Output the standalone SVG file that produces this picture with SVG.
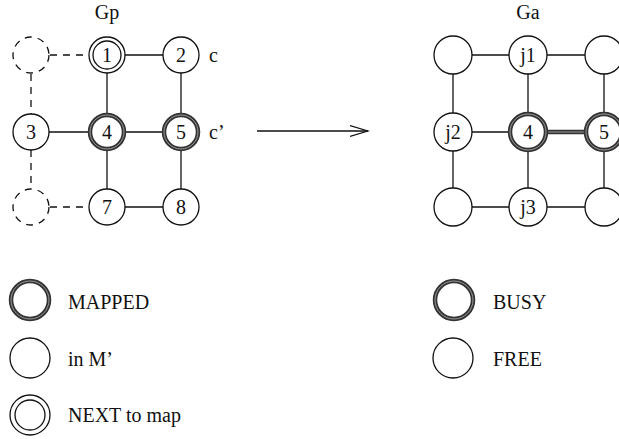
<svg xmlns="http://www.w3.org/2000/svg" width="619" height="439" viewBox="0 0 619 439">
<defs>
<style>
text{font-family:"Liberation Serif","Times New Roman",serif;fill:#111;}
.lbl{font-size:20px;text-anchor:middle;}
.big{font-size:20px;}
.n{fill:#fff;stroke:#111;stroke-width:1.3;}
.dash{fill:none;stroke:#111;stroke-width:1.3;stroke-dasharray:7,6;}
.busy{fill:#fff;stroke:#333;stroke-width:4.5;}
.busyin{fill:none;stroke:#999;stroke-width:1;}
.e{stroke:#111;stroke-width:1.3;fill:none;}
.ed{stroke:#111;stroke-width:1.3;fill:none;stroke-dasharray:7,6;}
</style>
<marker id="ah" markerWidth="20" markerHeight="14" refX="18" refY="7" orient="auto" markerUnits="userSpaceOnUse">
<path d="M0,1.5 L18,7 L0,12.5" fill="none" stroke="#111" stroke-width="1.3"/>
</marker>
</defs>
<rect width="619" height="439" fill="#fff"/>
<text class="lbl" x="107" y="19">Gp</text>
<text class="lbl" x="528" y="19">Ga</text>
<g id="connectors">
<line class="ed" x1="50" y1="55" x2="89" y2="55"/>
<line class="ed" x1="31" y1="74" x2="31" y2="114"/>
<line class="ed" x1="31" y1="150" x2="31" y2="189"/>
<line class="ed" x1="50" y1="207" x2="89" y2="207"/>
<line class="e" x1="107" y1="55" x2="181" y2="55"/>
<line class="e" x1="107" y1="55" x2="107" y2="132"/>
<line class="e" x1="181" y1="55" x2="181" y2="132"/>
<line class="e" x1="31" y1="132" x2="181" y2="132"/>
<line class="e" x1="107" y1="132" x2="107" y2="207"/>
<line class="e" x1="181" y1="132" x2="181" y2="207"/>
<line class="e" x1="107" y1="207" x2="181" y2="207"/>
<line class="e" x1="257" y1="131" x2="368" y2="131" marker-end="url(#ah)"/>
<line class="e" x1="453" y1="55" x2="604" y2="55"/>
<line class="e" x1="453" y1="132" x2="528" y2="132"/>
<line class="e" x1="453" y1="207" x2="604" y2="207"/>
<line class="e" x1="453" y1="55" x2="453" y2="207"/>
<line class="e" x1="528" y1="55" x2="528" y2="207"/>
<line class="e" x1="604" y1="55" x2="604" y2="207"/>
<line x1="528" y1="132" x2="604" y2="132" stroke="#333" stroke-width="4.5"/>
<line x1="528" y1="132" x2="604" y2="132" stroke="#999" stroke-width="1"/>
</g>
<g id="gp-top-dashed"><circle class="dash" cx="31" cy="55" r="18"/></g>
<g id="gp-1"><circle class="n" cx="107" cy="55" r="18"/><circle class="n" cx="107" cy="55" r="14"/><text class="lbl" x="107" y="62">1</text></g>
<g id="gp-2"><circle class="n" cx="181" cy="55" r="18"/><text class="lbl" x="181" y="62">2</text></g>
<text class="big" x="209" y="62">c</text>
<g id="gp-3"><circle class="n" cx="31" cy="132" r="18"/><text class="lbl" x="31" y="139">3</text></g>
<g id="gp-4"><circle class="busy" cx="107" cy="132" r="17"/><circle class="busyin" cx="107" cy="132" r="17"/><text class="lbl" x="107" y="139">4</text></g>
<g id="gp-5"><circle class="busy" cx="181" cy="132" r="17"/><circle class="busyin" cx="181" cy="132" r="17"/><text class="lbl" x="181" y="139">5</text></g>
<text class="big" x="209" y="139">c’</text>
<g id="gp-bottom-dashed"><circle class="dash" cx="31" cy="207" r="18"/></g>
<g id="gp-7"><circle class="n" cx="107" cy="207" r="18"/><text class="lbl" x="107" y="214">7</text></g>
<g id="gp-8"><circle class="n" cx="181" cy="207" r="18"/><text class="lbl" x="181" y="214">8</text></g>
<g id="ga-tl"><circle class="n" cx="453" cy="55" r="19"/></g>
<g id="ga-j1"><circle class="n" cx="528" cy="55" r="19"/><text class="lbl" x="528" y="62">j1</text></g>
<g id="ga-tr"><circle class="n" cx="604" cy="55" r="19"/></g>
<g id="ga-j2"><circle class="n" cx="453" cy="132" r="19"/><text class="lbl" x="453" y="139">j2</text></g>
<g id="ga-4"><circle class="busy" cx="528" cy="132" r="18"/><circle class="busyin" cx="528" cy="132" r="18"/><text class="lbl" x="528" y="139">4</text></g>
<g id="ga-5"><circle class="busy" cx="604" cy="132" r="18"/><circle class="busyin" cx="604" cy="132" r="18"/><text class="lbl" x="604" y="139">5</text></g>
<g id="ga-bl"><circle class="n" cx="453" cy="207" r="19"/></g>
<g id="ga-j3"><circle class="n" cx="528" cy="207" r="19"/><text class="lbl" x="528" y="214">j3</text></g>
<g id="ga-br"><circle class="n" cx="604" cy="207" r="19"/></g>
<g id="legend-mapped"><circle class="busy" cx="30" cy="300" r="19"/><circle class="busyin" cx="30" cy="300" r="19"/><text class="big" x="68" y="309">MAPPED</text></g>
<g id="legend-inm"><circle class="n" cx="30" cy="358" r="20"/><text class="big" x="68" y="366">in M’</text></g>
<g id="legend-next"><circle class="n" cx="30" cy="415" r="20"/><circle class="n" cx="30" cy="415" r="15"/><text class="big" x="68" y="422">NEXT to map</text></g>
<g id="legend-busy"><circle class="busy" cx="454" cy="300" r="19"/><circle class="busyin" cx="454" cy="300" r="19"/><text class="big" x="493" y="309">BUSY</text></g>
<g id="legend-free"><circle class="n" cx="453" cy="358" r="20"/><text class="big" x="493" y="366">FREE</text></g>
</svg>
